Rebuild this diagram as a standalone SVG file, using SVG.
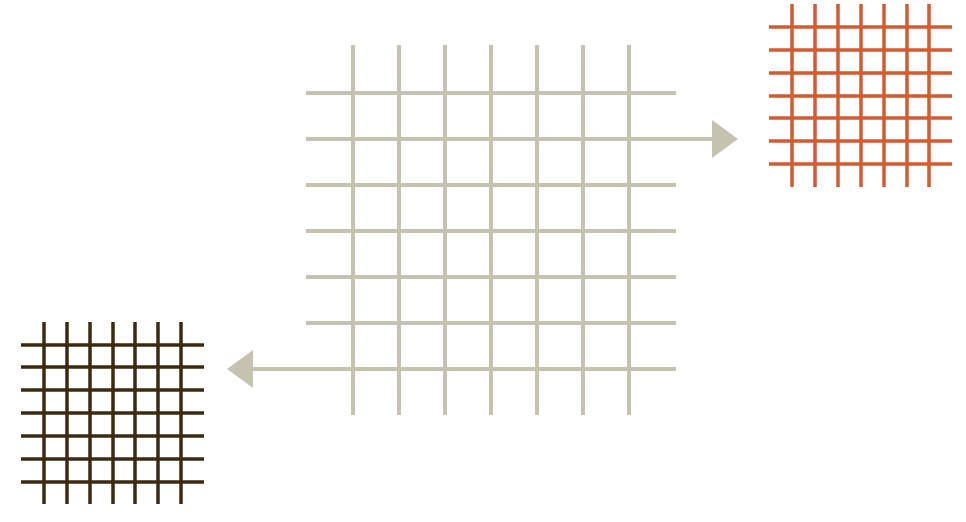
<svg xmlns="http://www.w3.org/2000/svg" width="966" height="522" viewBox="0 0 966 522">
<style>
.main line{stroke:#c5c2b0;stroke-width:4}
.orange line{stroke:#d35b2f;stroke-width:3.5}
.dark line{stroke:#3c2a0f;stroke-width:3.5}
.conn line{stroke:#c5c2b0;stroke-width:4}
.conn polygon{fill:#c5c2b0}
</style>
<rect width="966" height="522" fill="#ffffff"/>
<g id="main-grid" class="main">
<line x1="353" y1="45" x2="353" y2="415"/>
<line x1="399" y1="45" x2="399" y2="415"/>
<line x1="445" y1="45" x2="445" y2="415"/>
<line x1="491" y1="45" x2="491" y2="415"/>
<line x1="537" y1="45" x2="537" y2="415"/>
<line x1="583" y1="45" x2="583" y2="415"/>
<line x1="629" y1="45" x2="629" y2="415"/>
<line x1="306" y1="93" x2="676" y2="93"/>
<line x1="306" y1="139" x2="676" y2="139"/>
<line x1="306" y1="185" x2="676" y2="185"/>
<line x1="306" y1="231" x2="676" y2="231"/>
<line x1="306" y1="277" x2="676" y2="277"/>
<line x1="306" y1="323" x2="676" y2="323"/>
<line x1="306" y1="369" x2="676" y2="369"/>
</g>
<g id="orange-grid" class="orange">
<line x1="792" y1="4" x2="792" y2="187"/>
<line x1="815" y1="4" x2="815" y2="187"/>
<line x1="838" y1="4" x2="838" y2="187"/>
<line x1="861" y1="4" x2="861" y2="187"/>
<line x1="884" y1="4" x2="884" y2="187"/>
<line x1="907" y1="4" x2="907" y2="187"/>
<line x1="929" y1="4" x2="929" y2="187"/>
<line x1="769" y1="27" x2="952" y2="27"/>
<line x1="769" y1="50" x2="952" y2="50"/>
<line x1="769" y1="73" x2="952" y2="73"/>
<line x1="769" y1="96" x2="952" y2="96"/>
<line x1="769" y1="118" x2="952" y2="118"/>
<line x1="769" y1="141" x2="952" y2="141"/>
<line x1="769" y1="164" x2="952" y2="164"/>
</g>
<g id="dark-grid" class="dark">
<line x1="44" y1="322" x2="44" y2="504"/>
<line x1="67" y1="322" x2="67" y2="504"/>
<line x1="90" y1="322" x2="90" y2="504"/>
<line x1="113" y1="322" x2="113" y2="504"/>
<line x1="135" y1="322" x2="135" y2="504"/>
<line x1="158" y1="322" x2="158" y2="504"/>
<line x1="181" y1="322" x2="181" y2="504"/>
<line x1="21" y1="345" x2="204" y2="345"/>
<line x1="21" y1="367" x2="204" y2="367"/>
<line x1="21" y1="390" x2="204" y2="390"/>
<line x1="21" y1="413" x2="204" y2="413"/>
<line x1="21" y1="436" x2="204" y2="436"/>
<line x1="21" y1="459" x2="204" y2="459"/>
<line x1="21" y1="482" x2="204" y2="482"/>
</g>
<g id="connectors" class="conn">
<line x1="676" y1="139" x2="714" y2="139"/>
<polygon points="712,120 738,139 712,158"/>
<line x1="306" y1="369" x2="251" y2="369"/>
<polygon points="253,350 227,369 253,388"/>
</g>
</svg>
